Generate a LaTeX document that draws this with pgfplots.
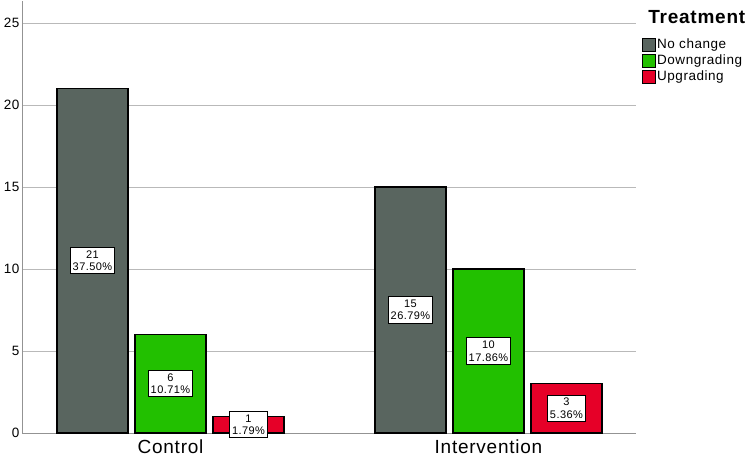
\documentclass[border=0pt]{standalone}
\usepackage{fontspec}
\setmainfont{Liberation Sans}[LetterSpace=4]
\usepackage{pgfplots}
\pgfplotsset{compat=1.18}
\definecolor{cgray}{RGB}{89,101,95}
\definecolor{cgreen}{RGB}{34,192,0}
\definecolor{cred}{RGB}{230,0,40}
\begin{document}
\begin{tikzpicture}
\useasboundingbox (0,0) rectangle (749bp,457bp);
\begin{axis}[
  at={(22bp,24bp)}, anchor=south west,
  scale only axis, width=614bp, height=432bp,
  xmin=-0.467, xmax=1.464, ymin=0, ymax=26.34,
  axis x line=bottom, axis y line=left,
  axis line style={draw=gray!85, line width=1bp, -},
  xtick={0,1}, xticklabels={Control,Intervention},
  ytick={0,5,...,25}, major tick length=0,
  ymajorgrids, grid style={draw=gray!55, line width=0.8bp},
  x tick label style={font=\fontsize{19bp}{21bp}\selectfont, yshift=-3.5bp},
  y tick label style={font=\fontsize{13.5bp}{15bp}\selectfont, xshift=1bp},
  /pgf/number format/assume math mode=true,
  ybar, bar width=71bp, clip=false,
  legend cell align=left,
  legend style={draw=none, fill=none, at={(axis description cs:1.010,0.918)}, anchor=north west,
    font=\fontsize{13.5bp}{15bp}\selectfont, row sep=0bp, inner sep=0bp,
    nodes={inner sep=1bp, text height=11bp, text depth=3bp}},
  lbl/.style={forget plot, draw=none, fill=none, nodes near coords, point meta=explicit symbolic,
    every node near coord/.append style={anchor=center, draw=black, fill=white, line width=1bp,
      align=center, font=\fontsize{11bp}{12.5bp}\selectfont, inner xsep=2.5bp, inner ysep=3bp}},
]
\addplot[fill=cgray, draw=black, line width=1.2bp, bar shift=-78bp,
  legend image code/.code={\draw[fill=cgray,draw=black,line width=0.8bp] (0bp,-6.5bp) rectangle (13bp,6.5bp);}]
  coordinates {(0,21) (1,15)};
\addplot[fill=cgreen, draw=black, line width=1.2bp, bar shift=0bp,
  legend image code/.code={\draw[fill=cgreen,draw=black,line width=0.8bp] (0bp,-6.5bp) rectangle (13bp,6.5bp);}]
  coordinates {(0,6) (1,10)};
\addplot[fill=cred, draw=black, line width=1.2bp, bar shift=78bp,
  legend image code/.code={\draw[fill=cred,draw=black,line width=0.8bp] (0bp,-6.5bp) rectangle (13bp,6.5bp);}]
  coordinates {(0,1) (1,3)};
\legend{No change,Downgrading,Upgrading}
\addplot[lbl, bar shift=-78bp] coordinates {(0,10.5) [{21\\37.50\%}] (1,7.5) [{15\\26.79\%}]};
\addplot[lbl, bar shift=0bp] coordinates {(0,3) [{6\\10.71\%}] (1,5) [{10\\17.86\%}]};
\addplot[lbl, bar shift=78bp] coordinates {(0,0.5) [{1\\1.79\%}] (1,1.5) [{3\\5.36\%}]};
\node[font=\bfseries\fontsize{19bp}{22bp}\selectfont, anchor=center] at (axis description cs:1.099,0.963) {Treatment};
\end{axis}
\end{tikzpicture}
\end{document}
